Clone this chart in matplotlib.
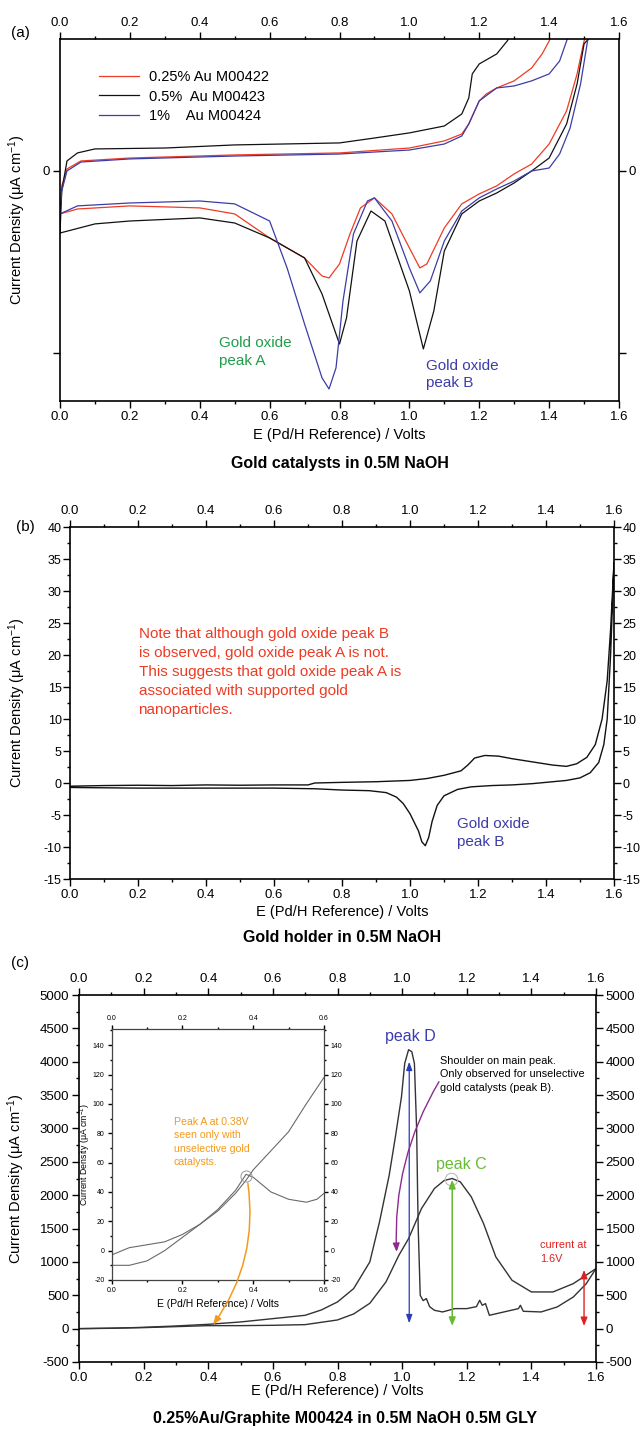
import numpy as np
import matplotlib
matplotlib.use("Agg")
import matplotlib.pyplot as plt
from matplotlib.ticker import MultipleLocator, FormatStrFormatter

plt.rcParams['font.family'] = ['Liberation Sans', 'DejaVu Sans']
plt.rcParams['mathtext.fontset'] = 'custom'
plt.rcParams['mathtext.rm'] = 'Liberation Sans'
plt.rcParams['mathtext.default'] = 'regular'
plt.rcParams['axes.unicode_minus'] = False

# ---- (a) gold catalysts in 0.5M NaOH (arbitrary current scale, 0 marked) ----
# each CV loop: anodic sweep up, then cathodic sweep back down to 0 V
e_red = [0.0, 0.005, 0.02, 0.06, 0.2, 0.5, 0.8, 1.0, 1.1, 1.15, 1.17, 1.2, 1.22, 1.25, 1.3,
         1.35, 1.38, 1.40, 1.42,
         1.52, 1.50, 1.48, 1.45, 1.4, 1.35, 1.3, 1.25, 1.2, 1.15, 1.1, 1.05, 1.03, 1.0, 0.95,
         0.9, 0.86, 0.83, 0.8, 0.77, 0.75, 0.7, 0.6, 0.5, 0.4, 0.2, 0.05, 0.0]
j_red = [-0.236, -0.082, 0.011, 0.055, 0.071, 0.088, 0.099, 0.126, 0.165, 0.203, 0.258, 0.385,
         0.423, 0.456, 0.495, 0.566, 0.643, 0.714, 0.80,
         0.80, 0.714, 0.533, 0.33, 0.148, 0.038, -0.016, -0.082, -0.126, -0.181, -0.313, -0.511,
         -0.533, -0.423, -0.236, -0.148, -0.203, -0.346, -0.511, -0.588, -0.577, -0.478, -0.368,
         -0.236, -0.203, -0.192, -0.209, -0.236]

e_blk = [0.0, 0.005, 0.02, 0.05, 0.1, 0.3, 0.5, 0.8, 0.9, 1.0, 1.1, 1.15, 1.17, 1.18, 1.2, 1.25,
         1.28, 1.30,
         1.52, 1.51, 1.5, 1.48, 1.45, 1.4, 1.35, 1.3, 1.25, 1.2, 1.15, 1.1, 1.07, 1.04, 1.0, 0.93,
         0.89, 0.85, 0.82, 0.8, 0.75, 0.7, 0.6, 0.5, 0.4, 0.2, 0.1, 0.0]
j_blk = [-0.341, -0.11, 0.055, 0.099, 0.121, 0.126, 0.143, 0.154, 0.181, 0.209, 0.247, 0.313,
         0.401, 0.533, 0.588, 0.643, 0.714, 0.77,
         0.80, 0.72, 0.698, 0.478, 0.258, 0.071, 0.0, -0.066, -0.121, -0.165, -0.236, -0.44,
         -0.769, -0.978, -0.659, -0.275, -0.22, -0.385, -0.808, -0.951, -0.676, -0.478, -0.368,
         -0.286, -0.258, -0.275, -0.291, -0.341]

e_blu = [0.0, 0.005, 0.02, 0.06, 0.2, 0.5, 0.8, 1.0, 1.1, 1.15, 1.17, 1.2, 1.25, 1.3, 1.35, 1.4,
         1.43, 1.45, 1.47,
         1.53, 1.51, 1.49, 1.46, 1.43, 1.4, 1.35, 1.3, 1.25, 1.2, 1.15, 1.1, 1.06, 1.03, 1.0, 0.95,
         0.9, 0.88, 0.84, 0.81, 0.79, 0.77, 0.75, 0.7, 0.65, 0.6, 0.5, 0.4, 0.2, 0.05, 0.0]
j_blu = [-0.236, -0.11, 0.0, 0.049, 0.066, 0.082, 0.093, 0.115, 0.148, 0.192, 0.258, 0.385,
         0.456, 0.467, 0.495, 0.533, 0.604, 0.714, 0.80,
         0.80, 0.714, 0.478, 0.236, 0.093, 0.016, 0.0, -0.055, -0.099, -0.148, -0.22, -0.385,
         -0.604, -0.67, -0.533, -0.275, -0.148, -0.165, -0.346, -0.714, -1.082, -1.198, -1.137,
         -0.841, -0.533, -0.275, -0.181, -0.165, -0.176, -0.192, -0.236]

labels_a = ['0.25% Au M00422', '0.5%  Au M00423', '1%    Au M00424']

# ---- (b) gold holder in 0.5M NaOH ----
e_hold = [0.0, 0.1, 0.2, 0.3, 0.4, 0.5, 0.6, 0.7, 0.72, 0.8, 0.9, 1.0, 1.05, 1.1, 1.15, 1.17,
          1.19, 1.22, 1.26, 1.3, 1.36, 1.42, 1.46, 1.49, 1.52, 1.545, 1.565, 1.58, 1.59, 1.6,
          1.59, 1.58, 1.57, 1.555, 1.53, 1.5, 1.46, 1.4, 1.36, 1.3, 1.24, 1.18, 1.14, 1.1, 1.08,
          1.065, 1.055, 1.045, 1.035, 1.025, 1.0, 0.98, 0.96, 0.93, 0.88, 0.8, 0.76, 0.72, 0.6,
          0.4, 0.2, 0.0]
j_hold = [-0.5, -0.4, -0.35, -0.4, -0.3, -0.35, -0.3, -0.3, 0.0, 0.1, 0.2, 0.4, 0.7, 1.2, 1.9,
          2.8, 3.9, 4.3, 4.2, 3.8, 3.3, 2.8, 2.6, 3.0, 4.0, 6.0, 10.0, 16.0, 24.0, 34.5,
          20.0, 10.0, 6.0, 3.2, 1.6, 0.8, 0.4, 0.1, -0.1, -0.3, -0.4, -0.6, -1.0, -2.0, -3.5,
          -6.0, -8.5, -9.8, -9.2, -7.5, -4.8, -3.2, -2.2, -1.5, -1.2, -1.1, -1.0, -0.9, -0.8,
          -0.8, -0.8, -0.7]

# ---- (c) 0.25%Au/Graphite in NaOH + glycerol ----
e_sweep1 = [0.0, 0.1, 0.2, 0.3, 0.4, 0.5, 0.6, 0.7, 0.75, 0.8, 0.85, 0.9, 0.93, 0.96, 0.98, 0.998,
            1.008, 1.02, 1.03, 1.038, 1.045, 1.048, 1.05, 1.056, 1.065, 1.075, 1.085, 1.10, 1.125,
            1.163, 1.2, 1.23, 1.24, 1.248, 1.258, 1.27, 1.315, 1.36, 1.366, 1.375, 1.43, 1.48,
            1.53, 1.57, 1.6]
j_sweep1 = [0, 5, 20, 40, 65, 100, 150, 200, 280, 400, 600, 1000, 1600, 2300, 2900, 3475,
            3975, 4180, 4150, 3975, 2975, 2000, 1475, 500, 420, 450, 330, 275, 250,
            300, 300, 330, 425, 350, 375, 200, 250, 300, 350, 260, 250, 325,
            475, 675, 900]

e_sweep2 = [0.0, 0.2, 0.4, 0.5, 0.6, 0.7, 0.8, 0.85, 0.9, 0.95, 0.99, 1.02, 1.06, 1.1, 1.13,
            1.155, 1.18, 1.214, 1.252, 1.29, 1.34, 1.40, 1.467, 1.53, 1.6]
j_sweep2 = [0, 15, 45, 45, 50, 60, 130, 220, 380, 700, 1100, 1350, 1800, 2100, 2220,
            2250, 2200, 1975, 1575, 1075, 725, 550, 550, 675, 900]

# inset: low-potential region, two sweeps
e_in1 = [0.0, 0.05, 0.1, 0.15, 0.2, 0.25, 0.3, 0.35, 0.38, 0.4, 0.45, 0.5, 0.55, 0.6]
j_in1 = [-10, -10, -7, 0, 9, 18, 27, 39, 48, 55, 68, 81, 100, 118]
e_in2 = [0.0, 0.05, 0.1, 0.15, 0.2, 0.25, 0.3, 0.35, 0.38, 0.4, 0.42, 0.45, 0.5, 0.55, 0.58, 0.6]
j_in2 = [-3, 2, 4, 6, 11, 18, 28, 41, 52, 50, 46, 40, 35, 33, 35, 39]

RED = '#ee3b24'
BLUE = '#3c3ca8'
GREEN = '#1f9e4a'
LIME = '#66bb33'
ORANGE = '#f39a1e'
PURPLE = '#8e2a8e'
YLAB = 'Current Density (μA cm$^{-1}$)'
XLAB = 'E (Pd/H Reference) / Volts'

W, H = 640, 1430
fig = plt.figure(figsize=(6.4, 14.3), dpi=100)


def box(x0, y0, x1, y1):
    # pixel box (top-left origin) -> figure fraction rect
    return [x0 / W, 1 - y1 / H, (x1 - x0) / W, (y1 - y0) / H]


def frame(ax, fs=9.5, major=5, minor=2.5):
    ax.tick_params(which='both', direction='out', top=True, right=True,
                   labeltop=True, labelright=True, labelsize=fs, width=1.0)
    ax.tick_params(which='major', length=major, pad=2)
    ax.tick_params(which='minor', length=minor)
    for s in ax.spines.values():
        s.set_linewidth(1.2)


# ----------------------------------------------------------------- panel (a)
ax_a = fig.add_axes(box(60, 39, 619, 401))
ax_a.plot(e_red, j_red, color=RED, lw=0.9, label=labels_a[0])
ax_a.plot(e_blk, j_blk, color='#111111', lw=0.9, label=labels_a[1])
ax_a.plot(e_blu, j_blu, color=BLUE, lw=0.9, label=labels_a[2])
ax_a.set_xlim(0, 1.6)
ax_a.set_ylim(-1.264, 0.725)
ax_a.xaxis.set_major_locator(MultipleLocator(0.2))
ax_a.xaxis.set_minor_locator(MultipleLocator(0.1))
ax_a.xaxis.set_major_formatter(FormatStrFormatter('%.1f'))
ax_a.set_yticks([-1, 0])
ax_a.set_yticklabels(['', '0'])
frame(ax_a)
ax_a.set_xlabel(XLAB, fontsize=10.5)
ax_a.xaxis.set_label_coords(0.5, -0.075)
ax_a.set_ylabel(YLAB, fontsize=10.5)
ax_a.yaxis.set_label_coords(-0.058, 0.5)
ax_a.legend(loc='upper left', bbox_to_anchor=(0.07, 0.915), frameon=False, fontsize=10.5,
            handlelength=2.75, handletextpad=0.7, labelspacing=0.4, borderaxespad=0,
            borderpad=0)
ax_a.text(0.455, -0.995, 'Gold oxide\npeak A', color=GREEN, fontsize=11, ha='left',
          va='center', linespacing=1.3)
ax_a.text(1.048, -1.12, 'Gold oxide\npeak B', color=BLUE, fontsize=11, ha='left',
          va='center', linespacing=1.3)

# ----------------------------------------------------------------- panel (b)
ax_b = fig.add_axes(box(70, 527, 614, 879))
ax_b.plot(e_hold, j_hold, color='#111111', lw=1.0)
ax_b.set_xlim(0, 1.6)
ax_b.set_ylim(-15, 40)
ax_b.xaxis.set_major_locator(MultipleLocator(0.2))
ax_b.xaxis.set_minor_locator(MultipleLocator(0.1))
ax_b.xaxis.set_major_formatter(FormatStrFormatter('%.1f'))
ax_b.yaxis.set_major_locator(MultipleLocator(5))
ax_b.yaxis.set_minor_locator(MultipleLocator(2.5))
frame(ax_b)
# right-hand labels sit close to the figure edge
ax_b.tick_params(axis='y', which='major', labelsize=9, pad=1)
ax_b.set_xlabel(XLAB, fontsize=10.5)
ax_b.xaxis.set_label_coords(0.5, -0.075)
ax_b.set_ylabel(YLAB, fontsize=10.5)
ax_b.yaxis.set_label_coords(-0.078, 0.5)
ax_b.text(0.2015, 17.3, 'Note that although gold oxide peak B\n'
          'is observed, gold oxide peak A is not.\n'
          'This suggests that gold oxide peak A is\n'
          'associated with supported gold\n'
          'nanoparticles.', color=RED, fontsize=11, ha='left', va='center',
          linespacing=1.45)
ax_b.text(1.138, -7.8, 'Gold oxide\npeak B', color=BLUE, fontsize=11, ha='left',
          va='center', linespacing=1.3)

# ----------------------------------------------------------------- panel (c)
ax_c = fig.add_axes(box(79, 995, 596, 1362))
ax_c.plot(e_sweep1, j_sweep1, color='#333333', lw=1.0)
ax_c.plot(e_sweep2, j_sweep2, color='#333333', lw=1.0)
ax_c.plot([1.15], [2250], 'o', ms=9, mfc='none', mec='#bbbbbb', mew=0.8)
ax_c.set_xlim(0, 1.6)
ax_c.set_ylim(-500, 5000)
ax_c.xaxis.set_major_locator(MultipleLocator(0.2))
ax_c.xaxis.set_minor_locator(MultipleLocator(0.1))
ax_c.xaxis.set_major_formatter(FormatStrFormatter('%.1f'))
ax_c.yaxis.set_major_locator(MultipleLocator(500))
ax_c.yaxis.set_minor_locator(MultipleLocator(250))
frame(ax_c)
ax_c.set_xlabel(XLAB, fontsize=10.5)
ax_c.xaxis.set_label_coords(0.5, -0.06)
ax_c.set_ylabel(YLAB, fontsize=10.5)
ax_c.yaxis.set_label_coords(-0.1, 0.5)

ax_c.annotate('', xy=(1.022, 80), xytext=(1.022, 4000),
              arrowprops=dict(arrowstyle='<|-|>,head_length=0.5,head_width=0.18',
                              color='#2b3bb8', lw=0.9, shrinkA=0, shrinkB=0))
ax_c.annotate('', xy=(1.155, 40), xytext=(1.155, 2230),
              arrowprops=dict(arrowstyle='<|-|>,head_length=0.5,head_width=0.2',
                              color=LIME, lw=1.1, shrinkA=0, shrinkB=0))
ax_c.annotate('', xy=(1.563, 40), xytext=(1.563, 880),
              arrowprops=dict(arrowstyle='<|-|>,head_length=0.5,head_width=0.2',
                              color='#e02020', lw=1.0, shrinkA=0, shrinkB=0))
ax_c.annotate('', xy=(0.983, 1150), xytext=(1.114, 3700),
              arrowprops=dict(arrowstyle='-|>,head_length=0.5,head_width=0.2',
                              color=PURPLE, lw=1.0, shrinkA=0, shrinkB=0,
                              connectionstyle='arc3,rad=0.15'))
ax_c.text(0.947, 4380, 'peak D', color='#3b3bb5', fontsize=11.5, ha='left', va='center')
ax_c.text(1.105, 2460, 'peak C', color=LIME, fontsize=11.5, ha='left', va='center')
ax_c.text(1.118, 3810, 'Shoulder on main peak.\nOnly observed for unselective\n'
          'gold catalysts (peak B).', fontsize=7.8, ha='left', va='center', linespacing=1.45)
ax_c.text(1.427, 1150, 'current at\n1.6V', color='#e02020', fontsize=7.8, ha='left',
          va='center', linespacing=1.5)

# inset
ax_in = fig.add_axes(box(111.5, 1029, 324, 1280))
ax_in.plot(e_in1, j_in1, color='#6a6a6a', lw=0.8)
ax_in.plot(e_in2, j_in2, color='#6a6a6a', lw=0.8)
ax_in.plot([0.38], [51], 'o', ms=8, mfc='none', mec='#999999', mew=0.7)
ax_in.set_xlim(0, 0.6)
ax_in.set_ylim(-20, 151)
ax_in.xaxis.set_major_locator(MultipleLocator(0.2))
ax_in.xaxis.set_minor_locator(MultipleLocator(0.1))
ax_in.xaxis.set_major_formatter(FormatStrFormatter('%.1f'))
ax_in.yaxis.set_major_locator(MultipleLocator(20))
ax_in.yaxis.set_minor_locator(MultipleLocator(10))
frame(ax_in, fs=5, major=3, minor=1.5)
for s in ax_in.spines.values():
    s.set_linewidth(0.9)
    s.set_color('#444444')
ax_in.set_xlabel(XLAB, fontsize=7.5)
ax_in.xaxis.set_label_coords(0.5, -0.075)
ax_in.set_ylabel(YLAB, fontsize=6.3)
ax_in.yaxis.set_label_coords(-0.09, 0.5)
ax_in.text(0.176, 74, 'Peak A at 0.38V\nseen only with\nunselective gold\ncatalysts.',
           color=ORANGE, fontsize=7.6, ha='left', va='center', linespacing=1.45)
ax_in.annotate('', xy=(0.415, 60), xycoords=ax_c.transData, xytext=(0.385, 46),
               textcoords='data', annotation_clip=False,
               arrowprops=dict(arrowstyle='-|>,head_length=0.5,head_width=0.2',
                               color=ORANGE, lw=1.1, shrinkA=0, shrinkB=0,
                               connectionstyle='arc3,rad=-0.2'))

# panel letters and captions
fig.text(20 / W, 1 - 33 / H, '(a)', fontsize=11, ha='center', va='center')
fig.text(25 / W, 1 - 527 / H, '(b)', fontsize=11, ha='center', va='center')
fig.text(20 / W, 1 - 963 / H, '(c)', fontsize=11, ha='center', va='center')
fig.text(339.5 / W, 1 - 464 / H, 'Gold catalysts in 0.5M NaOH', fontsize=11.5,
         fontweight='bold', ha='center', va='center')
fig.text(342 / W, 1 - 938 / H, 'Gold holder in 0.5M NaOH', fontsize=11.5,
         fontweight='bold', ha='center', va='center')
fig.text(345 / W, 1 - 1419 / H, '0.25%Au/Graphite M00424 in 0.5M NaOH 0.5M GLY',
         fontsize=11.5, fontweight='bold', ha='center', va='center')

fig.savefig('out.png', dpi=100, facecolor='white')
